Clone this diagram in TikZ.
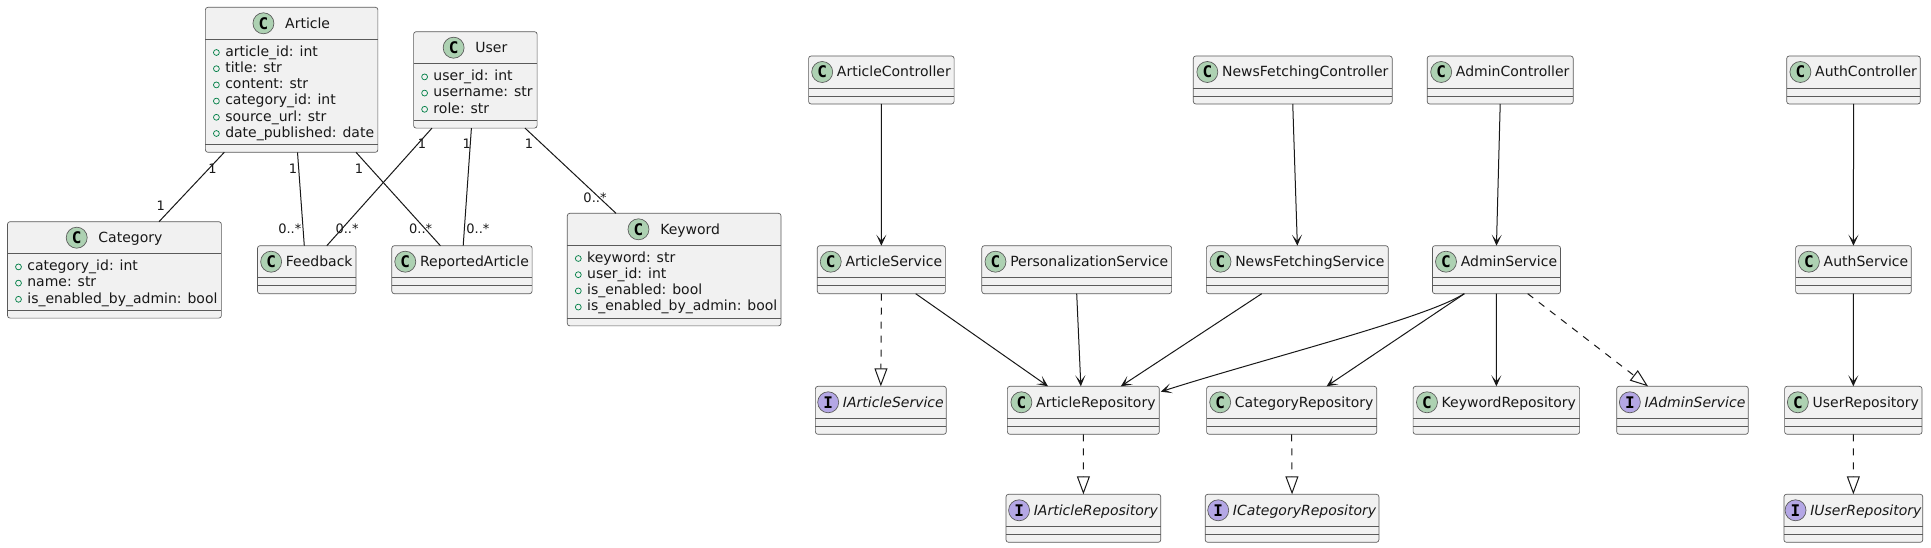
\documentclass[tikz,border=0pt]{standalone}
\usepackage{fontspec}
\setmainfont{DejaVu Sans}
\newfontfamily\spotfont{DejaVu Sans Mono}
\usetikzlibrary{arrows.meta,calc,fit}
\definecolor{boxfill}{HTML}{F1F1F1}
\definecolor{ink}{HTML}{181818}
\definecolor{boxline}{HTML}{5A5A5A}
\definecolor{spotc}{HTML}{ADD1B2}
\definecolor{spoti}{HTML}{B4A7E5}
\definecolor{visc}{HTML}{038048}
\newcommand\gapN{\hspace*{18.75pt}}
\newcommand\gapW{\hspace*{24pt}}
\tikzset{
  clsbox/.style={draw=boxline, line width=0.5pt, fill=boxfill, rounded corners=1.9pt, inner sep=0pt, outer sep=0pt},
  ttl/.style={inner sep=0pt, font=\fontsize{10.5}{12.6}\selectfont, text=ink},
  attr/.style={inner sep=0pt, font=\fontsize{10.5}{12.6}\selectfont, text=ink},
  spotdisc/.style={draw=boxline, line width=0.5pt},
  spotl/.style={inner sep=0pt, font=\spotfont\bfseries\fontsize{12}{12}\selectfont, text=black},
  sepl/.style={draw=boxline, line width=0.5pt},
  vismark/.style={draw=visc, line width=0.55pt},
  mult/.style={inner sep=0pt, font=\fontsize{9.75}{11}\selectfont, text=ink},
  assoc/.style={draw=ink, line width=0.75pt},
  depend/.style={draw=ink, line width=0.75pt, -{Stealth[length=8.25pt,width=7.5pt,inset=4.5pt]}},
  realiz/.style={draw=ink, line width=0.75pt, dash pattern=on 5.25pt off 5.25pt, -{Triangle[length=13.5pt,width=9.75pt,fill=white]}}
}
% #1 name, #2 left, #3 top, #4 right, #5 bottom, #6 title, #7 letter, #8 spot colour
\newcommand\umlcls[8]{%
  \node[clsbox, fit={(#2,#3) (#4,#5)}] (#1) {};
  \node[ttl, anchor=base] (#1-t) at ($(#1.north)+(0,21)$) {#6};
  \draw[spotdisc, fill=#8] ($(#1-t.base west)+(10.5,-5)$) circle[radius=7.875pt];
  \node[spotl] (#1-s) at ($(#1-t.base west)+(10.5,-5)$) {#7};
  \draw[sepl] ($(#1.north west)+(0,32)$) -- ($(#1.north east)+(0,32)$);
  \draw[sepl] ($(#1.south west)+(0,-8)$) -- ($(#1.south east)+(0,-8)$);
}
% #1 class, #2 index, #3 text
\newcommand\umlattr[3]{%
  \draw[vismark] ($(#1.north west)+(11,{45.2+16.2*#2})$) circle[radius=2.2pt];
  \node[attr, anchor=base west] (#1-a#2) at ($(#1.north west)+(19.6,{49+16.2*#2})$) {#3};
}
\begin{document}
\begin{tikzpicture}[x=0.75pt, y=-0.75pt]
\fill[white] (0,0) rectangle (1931,548);
\useasboundingbox (0,0) rectangle (1931,548);

% ---------- domain model ----------
\umlcls{Article}{205.4}{7.3}{377.9}{152.3}{\gapW Article}{C}{spotc}
\umlattr{Article}{0}{article\_id: int}
\umlattr{Article}{1}{title: str}
\umlattr{Article}{2}{content: str}
\umlattr{Article}{3}{category\_id: int}
\umlattr{Article}{4}{source\_url: str}
\umlattr{Article}{5}{date\_published: date}

\umlcls{User}{413.6}{31.7}{537.1}{128.1}{\gapW User}{C}{spotc}
\umlattr{User}{0}{user\_id: int}
\umlattr{User}{1}{username: str}
\umlattr{User}{2}{role: str}

\umlcls{Category}{7.5}{221.7}{221.4}{318.1}{\gapW Category}{C}{spotc}
\umlattr{Category}{0}{category\_id: int}
\umlattr{Category}{1}{name: str}
\umlattr{Category}{2}{is\_enabled\_by\_admin: bool}

\umlcls{Keyword}{567.3}{213.3}{781}{325.9}{\gapW Keyword}{C}{spotc}
\umlattr{Keyword}{0}{keyword: str}
\umlattr{Keyword}{1}{user\_id: int}
\umlattr{Keyword}{2}{is\_enabled: bool}
\umlattr{Keyword}{3}{is\_enabled\_by\_admin: bool}

\umlcls{Feedback}{257.5}{245.7}{356}{293.7}{\gapN Feedback}{C}{spotc}
\umlcls{ReportedArticle}{391.8}{245.7}{532.1}{293.7}{\gapN ReportedArticle}{C}{spotc}

% ---------- controllers ----------
\umlcls{ArticleController}{808.6}{56}{954.1}{104}{\gapN ArticleController}{C}{spotc}
\umlcls{NewsFetchingController}{1193.3}{56}{1392.2}{104}{\gapN NewsFetchingController}{C}{spotc}
\umlcls{AdminController}{1427.2}{56}{1573.2}{104}{\gapN AdminController}{C}{spotc}
\umlcls{AuthController}{1786.7}{56}{1920.3}{104}{\gapN AuthController}{C}{spotc}

% ---------- services ----------
\umlcls{ArticleService}{817.3}{245.7}{945.4}{293.7}{\gapN ArticleService}{C}{spotc}
\umlcls{PersonalizationService}{981.8}{245.7}{1171.6}{293.7}{\gapN PersonalizationService}{C}{spotc}
\umlcls{NewsFetchingService}{1206.4}{245.7}{1388.3}{293.7}{\gapN NewsFetchingService}{C}{spotc}
\umlcls{AdminService}{1432.4}{245.7}{1560.5}{293.7}{\gapN AdminService}{C}{spotc}
\umlcls{AuthService}{1795.6}{245.7}{1911.3}{293.7}{\gapN AuthService}{C}{spotc}

% ---------- repositories / interfaces ----------
\umlcls{IArticleService}{815.4}{386.3}{946.3}{434.3}{\gapN\itshape IArticleService}{I}{spoti}
\umlcls{ArticleRepository}{1007.4}{386.3}{1159.3}{434.3}{\gapN ArticleRepository}{C}{spotc}
\umlcls{CategoryRepository}{1206.6}{386.3}{1376.7}{434.3}{\gapN CategoryRepository}{C}{spotc}
\umlcls{KeywordRepository}{1413.1}{386.3}{1579.6}{434.3}{\gapN KeywordRepository}{C}{spotc}
\umlcls{IAdminService}{1616.7}{386.3}{1748.3}{434.3}{\gapN\itshape IAdminService}{I}{spoti}
\umlcls{UserRepository}{1784.6}{386.3}{1922}{434.3}{\gapN UserRepository}{C}{spotc}

\umlcls{IArticleRepository}{1006}{494.3}{1160.8}{542.3}{\gapN\itshape IArticleRepository}{I}{spoti}
\umlcls{ICategoryRepository}{1205.2}{494.3}{1378.9}{542.3}{\gapN\itshape ICategoryRepository}{I}{spoti}
\umlcls{IUserRepository}{1783.9}{494.3}{1922.8}{542.3}{\gapN\itshape IUserRepository}{I}{spoti}

% ---------- associations ----------
\draw[assoc] ($(Article.south west)+(18.9,0)$) -- ($(Category.north west)+(151.5,0)$);
\draw[assoc] ($(Article.south west)+(92.1,0)$) -- ($(Feedback.north west)+(46.8,0)$);
\draw[assoc] ($(Article.south west)+(150.6,0)$) -- ($(ReportedArticle.north west)+(48.6,0)$);
\draw[assoc] ($(User.south west)+(18.4,0)$) -- ($(Feedback.north west)+(69.3,0)$);
\draw[assoc] ($(User.south west)+(57.8,0)$) -- ($(ReportedArticle.north west)+(71.4,0)$);
\draw[assoc] ($(User.south west)+(111.4,0)$) -- ($(Keyword.north west)+(48.7,0)$);

\node[mult] (m1) at (212.5,169) {1};
\node[mult] (m2) at (160.7,205.7) {1};
\node[mult] (m3) at (292.9,169) {1};
\node[mult] (m4) at (289.8,229) {0..*};
\node[mult] (m5) at (358.9,169) {1};
\node[mult] (m6) at (420.7,229) {0..*};
\node[mult] (m7) at (422.1,144) {1};
\node[mult] (m8) at (347.1,229) {0..*};
\node[mult] (m9) at (466.8,144) {1};
\node[mult] (m10) at (477.9,229) {0..*};
\node[mult] (m11) at (528.9,144) {1};
\node[mult] (m12) at (595,197.3) {0..*};

% ---------- dependencies ----------
\draw[depend] (ArticleController.south) -- (ArticleService.north);
\draw[depend] (NewsFetchingController.south) -- (NewsFetchingService.north);
\draw[depend] (AdminController.south) -- (AdminService.north);
\draw[depend] (AuthController.south) -- (AuthService.north);

\draw[depend] ($(ArticleService.south west)+(98.4,0)$) -- ($(ArticleRepository.north west)+(40.6,0)$);
\draw[depend] (PersonalizationService.south) -- ($(ArticleRepository.north)+(-2.5,0)$);
\draw[depend] ($(NewsFetchingService.south west)+(55.3,0)$) -- ($(ArticleRepository.north west)+(113.4,0)$);
\draw[depend] ($(AdminService.south west)+(31.6,0)$) .. controls +(-36,24) and +(100,-32) .. ($(ArticleRepository.north east)+(1.5,5.4)$);
\draw[depend] ($(AdminService.south west)+(32.1,0)$) -- ($(CategoryRepository.north west)+(120,0)$);
\draw[depend] (AdminService.south) -- (KeywordRepository.north);
\draw[depend] (AuthService.south) -- (UserRepository.north);

% ---------- realizations ----------
\draw[realiz] (ArticleService.south) -- (IArticleService.north);
\draw[realiz] ($(AdminService.south west)+(95.3,0)$) -- ($(IAdminService.north west)+(31.3,0)$);
\draw[realiz] (ArticleRepository.south) -- (IArticleRepository.north);
\draw[realiz] (CategoryRepository.south) -- (ICategoryRepository.north);
\draw[realiz] (UserRepository.south) -- (IUserRepository.north);
\end{tikzpicture}
\end{document}
